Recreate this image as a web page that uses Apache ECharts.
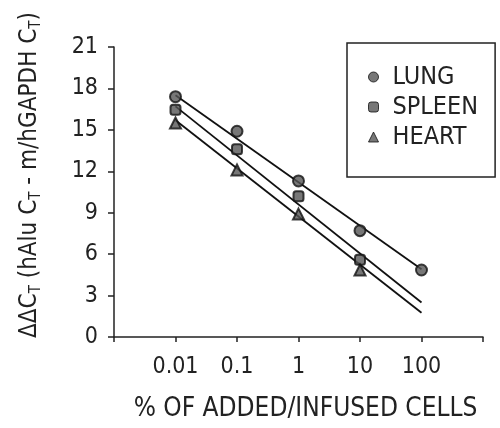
<!DOCTYPE html>
<html>
<head>
<meta charset="utf-8">
<script src="https://cdn.jsdelivr.net/npm/echarts@6/dist/echarts.min.js"></script>
<style>
  html, body { margin: 0; padding: 0; background: #fff; }
  #main { width: 500px; height: 428px; }
</style>
</head>
<body>
<div id="main"></div>
<script>
var FONT = "'Liberation Sans Narrow', 'DejaVu Sans Condensed', sans-serif";

// % of added/infused cells (log axis)
var xValues = [0.01, 0.1, 1, 10, 100];
var xLabels = ['0.01', '0.1', '1', '10', '100'];
var yTicks = [0, 3, 6, 9, 12, 15, 18, 21];

// measured points (ΔΔCT)
var lung = [17.4, 14.9, 11.3, 7.7, 4.85];
var spleen = [16.45, 13.6, 10.2, 5.6];
var heart = [15.5, 12.1, 8.9, 4.85];

// fitted lines, value at 0.01 and at 100
var lineX = [0.01, 100];
var lungFit = [17.5, 4.9];
var spleenFit = [16.7, 2.5];
var heartFit = [15.7, 1.75];

function pairs(xs, ys) {
  return ys.map(function (y, i) { return [xs[i], y]; });
}

var chartDom = document.getElementById('main');
var myChart = echarts.init(chartDom);
var option;

var markStyle = { color: '#555', borderColor: '#111', borderWidth: 2 };
var fitStyle = { color: '#111', width: 1.8 };

option = {
  backgroundColor: '#fff',
  animation: false,
  textStyle: { fontFamily: FONT, color: '#222' },
  grid: { left: 114, right: 17, top: 47, bottom: 91 },
  legend: {
    orient: 'vertical',
    left: 347,
    top: 43,
    data: ['LUNG', 'SPLEEN', 'HEART'],
    borderColor: '#222',
    borderWidth: 1.5,
    padding: [19, 17, 25, 21],
    itemGap: 0,
    itemWidth: 10,
    itemHeight: 10,
    itemStyle: { color: '#555', borderColor: '#111', borderWidth: 1 },
    textStyle: { fontFamily: FONT, fontSize: 25, color: '#222', lineHeight: 30, padding: [0, 0, 0, 9] }
  },
  xAxis: {
    type: 'log',
    logBase: 10,
    min: 0.001,
    max: 1000,
    name: '% OF ADDED/INFUSED CELLS',
    nameLocation: 'middle',
    nameGap: 59,
    nameTextStyle: { fontFamily: FONT, fontSize: 26, color: '#222', padding: [0, 0, 0, 14] },
    axisLine: { lineStyle: { color: '#222', width: 1.5 } },
    axisTick: { show: true, length: 5, lineStyle: { color: '#222', width: 1.5 } },
    splitLine: { show: false },
    axisLabel: {
      fontFamily: FONT,
      fontSize: 23,
      color: '#222',
      margin: 19,
      formatter: function (v) {
        for (var i = 0; i < xValues.length; i++) {
          if (Math.abs(Math.log10(v) - Math.log10(xValues[i])) < 1e-6) return xLabels[i];
        }
        return '';
      }
    }
  },
  yAxis: {
    type: 'value',
    min: 0,
    max: 21,
    interval: 3,
    name: '{t|ΔΔC}{s|T}{t| (hAlu C}{s|T}{t| - m/hGAPDH C}{s|T}{t|)}',
    nameLocation: 'middle',
    nameRotate: 90,
    nameGap: 70,
    nameTextStyle: {
      padding: [0, 0, 0, 34],
      rich: {
        t: { fontFamily: FONT, fontSize: 24, color: '#222', lineHeight: 28 },
        s: { fontFamily: FONT, fontSize: 15, color: '#222', lineHeight: 15, verticalAlign: 'bottom' }
      }
    },
    axisLine: { show: true, lineStyle: { color: '#222', width: 1.5 } },
    axisTick: { show: true, length: 6, lineStyle: { color: '#222', width: 1.5 } },
    splitLine: { show: false },
    axisLabel: { fontFamily: FONT, fontSize: 23, color: '#222', margin: 16 }
  },
  series: [
    {
      name: 'LUNG', type: 'scatter', symbol: 'circle', symbolSize: 11,
      itemStyle: markStyle, data: pairs(xValues, lung), z: 5
    },
    {
      name: 'SPLEEN', type: 'scatter', symbol: 'roundRect', symbolSize: 10,
      itemStyle: markStyle, data: pairs(xValues, spleen), z: 5
    },
    {
      name: 'HEART', type: 'scatter', symbol: 'triangle', symbolSize: 11,
      itemStyle: markStyle, data: pairs(xValues, heart), z: 5
    },
    { name: 'lungFit', type: 'line', showSymbol: false, lineStyle: fitStyle, data: pairs(lineX, lungFit) },
    { name: 'spleenFit', type: 'line', showSymbol: false, lineStyle: fitStyle, data: pairs(lineX, spleenFit) },
    { name: 'heartFit', type: 'line', showSymbol: false, lineStyle: fitStyle, data: pairs(lineX, heartFit) }
  ]
};

option && myChart.setOption(option);
</script>
</body>
</html>
